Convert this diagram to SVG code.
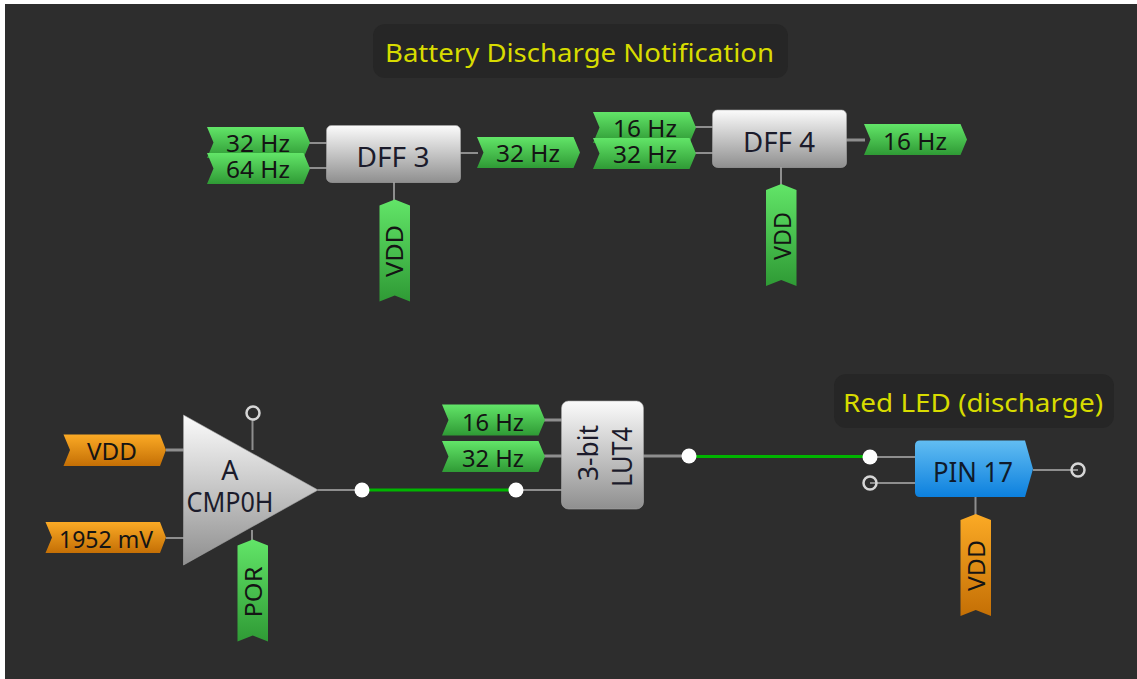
<svg xmlns="http://www.w3.org/2000/svg" width="1137" height="679" viewBox="0 0 1137 679">
<defs>
<linearGradient id="gG" x1="0" y1="0" x2="0" y2="1"><stop offset="0" stop-color="#62e568"/><stop offset="1" stop-color="#2f9a35"/></linearGradient>
<linearGradient id="gO" x1="0" y1="0" x2="0" y2="1"><stop offset="0" stop-color="#fbaa25"/><stop offset="1" stop-color="#c46f05"/></linearGradient>
<linearGradient id="gW" x1="0" y1="0" x2="0" y2="1"><stop offset="0" stop-color="#fbfbfb"/><stop offset="1" stop-color="#8f8f8f"/></linearGradient>
<linearGradient id="gB" x1="0" y1="0" x2="0" y2="1"><stop offset="0" stop-color="#62bdf2"/><stop offset="1" stop-color="#0c80de"/></linearGradient>
<path id="tagH" d="M0 0H96.500L103 15.500L96.500 31H0L6.500 15.500Z"/>
<path id="tagV" d="M15.250 0L30.500 6V102L15.250 96L0 102V6Z"/>
</defs>
<style>
text{font-family:"Noto Sans","DejaVu Sans","Liberation Sans",sans-serif;fill:#141414;text-anchor:middle}
.t{font-size:24px}
.c{font-size:27px;fill:#1b1b2b}
.y{font-size:25px;fill:#d8dc00}
.g{fill:url(#gG)}
.o{fill:url(#gO)}
.w{fill:url(#gW);stroke:#a8a8a8;stroke-width:.6}
.s{fill:none;stroke:#8e8e8e;stroke-width:2}
.k{fill:none;stroke:#8e8e8e;stroke-width:3}
.n{fill:none;stroke:#00b400;stroke-width:3}
.d{fill:#fff}
.h{fill:none;stroke:#d6d6d6;stroke-width:2.500}
.b{fill:#262626}
</style>
<rect x="0" y="0" width="1137" height="679" fill="#fff"/>
<rect x="5" y="4" width="1132" height="675" fill="#2d2d2d"/>

<g id="connectors">
<path class="s" d="M305 143H327M305 168H327M460 153H478M394 182V201"/>
<path class="s" d="M692 127H713M692 153H713M781 167V185"/>
<path class="k" d="M846 140H865M166 450H184M541 420H562M541 456H562M643 456H689"/>
<path class="s" d="M166 538H184M252.500 420V450M252 530V541M318 490H362"/>
<path class="s" d="M516 490H562"/>
<path class="s" d="M870 457H916M870 483H916M1033 470H1078M975.500 496V515"/>
<path class="n" d="M362 490H516M689 456.500H870"/>
<circle class="d" cx="362" cy="490" r="7.500"/>
<circle class="d" cx="516" cy="490" r="7.500"/>
<circle class="d" cx="689" cy="456" r="7.500"/>
<circle class="d" cx="870" cy="457" r="7.500"/>
<circle class="h" cx="253" cy="413" r="6.500"/>
<circle class="h" cx="870" cy="483" r="6.500"/>
<circle class="h" cx="1078" cy="470" r="6.500"/>
</g>

<g id="title1">
<rect class="b" x="373" y="24" width="415" height="54" rx="12"/>
<text class="y" x="579.500" y="62" textLength="389" lengthAdjust="spacingAndGlyphs">Battery Discharge Notification</text>
</g>
<g id="title2">
<rect class="b" x="834" y="374" width="280" height="54" rx="12"/>
<text class="y" x="973" y="412" textLength="260" lengthAdjust="spacingAndGlyphs">Red LED (discharge)</text>
</g>

<g id="dff3">
<use href="#tagH" class="g" x="207" y="127"/>
<text class="t" x="258" y="152" textLength="64" lengthAdjust="spacingAndGlyphs">32 Hz</text>
<use href="#tagH" class="g" x="207" y="153"/>
<text class="t" x="258" y="178" textLength="64" lengthAdjust="spacingAndGlyphs">64 Hz</text>
<rect class="w" x="326.500" y="125.500" width="134" height="57" rx="5"/>
<text class="c" x="393" y="167" textLength="73" lengthAdjust="spacingAndGlyphs">DFF 3</text>
<use href="#tagH" class="g" x="477" y="137"/>
<text class="t" x="528" y="162" textLength="64" lengthAdjust="spacingAndGlyphs">32 Hz</text>
<use href="#tagV" class="g" x="379.500" y="199.500"/>
<text class="t" transform="translate(403 251) rotate(-90)" textLength="52" lengthAdjust="spacingAndGlyphs">VDD</text>
</g>

<g id="dff4">
<use href="#tagH" class="g" x="593" y="112"/>
<text class="t" x="645" y="137" textLength="64" lengthAdjust="spacingAndGlyphs">16 Hz</text>
<use href="#tagH" class="g" x="593" y="138"/>
<text class="t" x="645" y="163" textLength="64" lengthAdjust="spacingAndGlyphs">32 Hz</text>
<rect class="w" x="712.500" y="110" width="134" height="57.500" rx="5"/>
<text class="c" x="779" y="152" textLength="72" lengthAdjust="spacingAndGlyphs">DFF 4</text>
<use href="#tagH" class="g" x="864" y="124"/>
<text class="t" x="915" y="150" textLength="64" lengthAdjust="spacingAndGlyphs">16 Hz</text>
<use href="#tagV" class="g" x="766" y="184"/>
<text class="t" transform="translate(791 236) rotate(-90)" textLength="48" lengthAdjust="spacingAndGlyphs">VDD</text>
</g>

<g id="cmp0h">
<path class="o" d="M63.500 434.500H160L166 450L160 466H63.500L70 450Z"/>
<text class="t" x="112" y="460" textLength="50" lengthAdjust="spacingAndGlyphs">VDD</text>
<path class="o" d="M45.500 522H160L166 537.500L160 553H45.500L52 537.500Z"/>
<text class="t" x="106" y="548" textLength="94" lengthAdjust="spacingAndGlyphs">1952 mV</text>
<path class="w" d="M183.500 415L318 490L183.500 565Z"/>
<text class="c" x="230" y="480">A</text>
<text class="c" x="230" y="512" textLength="87" lengthAdjust="spacingAndGlyphs">CMP0H</text>
<use href="#tagV" class="g" x="237.500" y="539.500"/>
<text class="t" transform="translate(262 592) rotate(-90)" textLength="51" lengthAdjust="spacingAndGlyphs">POR</text>
</g>

<g id="lut4">
<use href="#tagH" class="g" x="442" y="404.500"/>
<text class="t" x="493" y="431" textLength="62" lengthAdjust="spacingAndGlyphs">16 Hz</text>
<use href="#tagH" class="g" x="442" y="441"/>
<text class="t" x="493" y="467" textLength="62" lengthAdjust="spacingAndGlyphs">32 Hz</text>
<rect class="w" x="561.500" y="401" width="82" height="108" rx="7"/>
<text class="c" transform="translate(598 453) rotate(-90)" textLength="56" lengthAdjust="spacingAndGlyphs">3-bit</text>
<text class="c" transform="translate(632 457) rotate(-90)" textLength="60" lengthAdjust="spacingAndGlyphs">LUT4</text>
</g>

<g id="pin17">
<path fill="url(#gB)" d="M920 440.500H1025L1033 469L1025 497H920Q915 497 915 492V445.500Q915 440.500 920 440.500Z"/>
<text class="c" x="973" y="482" textLength="80" lengthAdjust="spacingAndGlyphs" style="fill:#0f1a2a">PIN 17</text>
<use href="#tagV" class="o" x="960.500" y="514"/>
<text class="t" transform="translate(985 565.500) rotate(-90)" textLength="51" lengthAdjust="spacingAndGlyphs">VDD</text>
</g>
</svg>
